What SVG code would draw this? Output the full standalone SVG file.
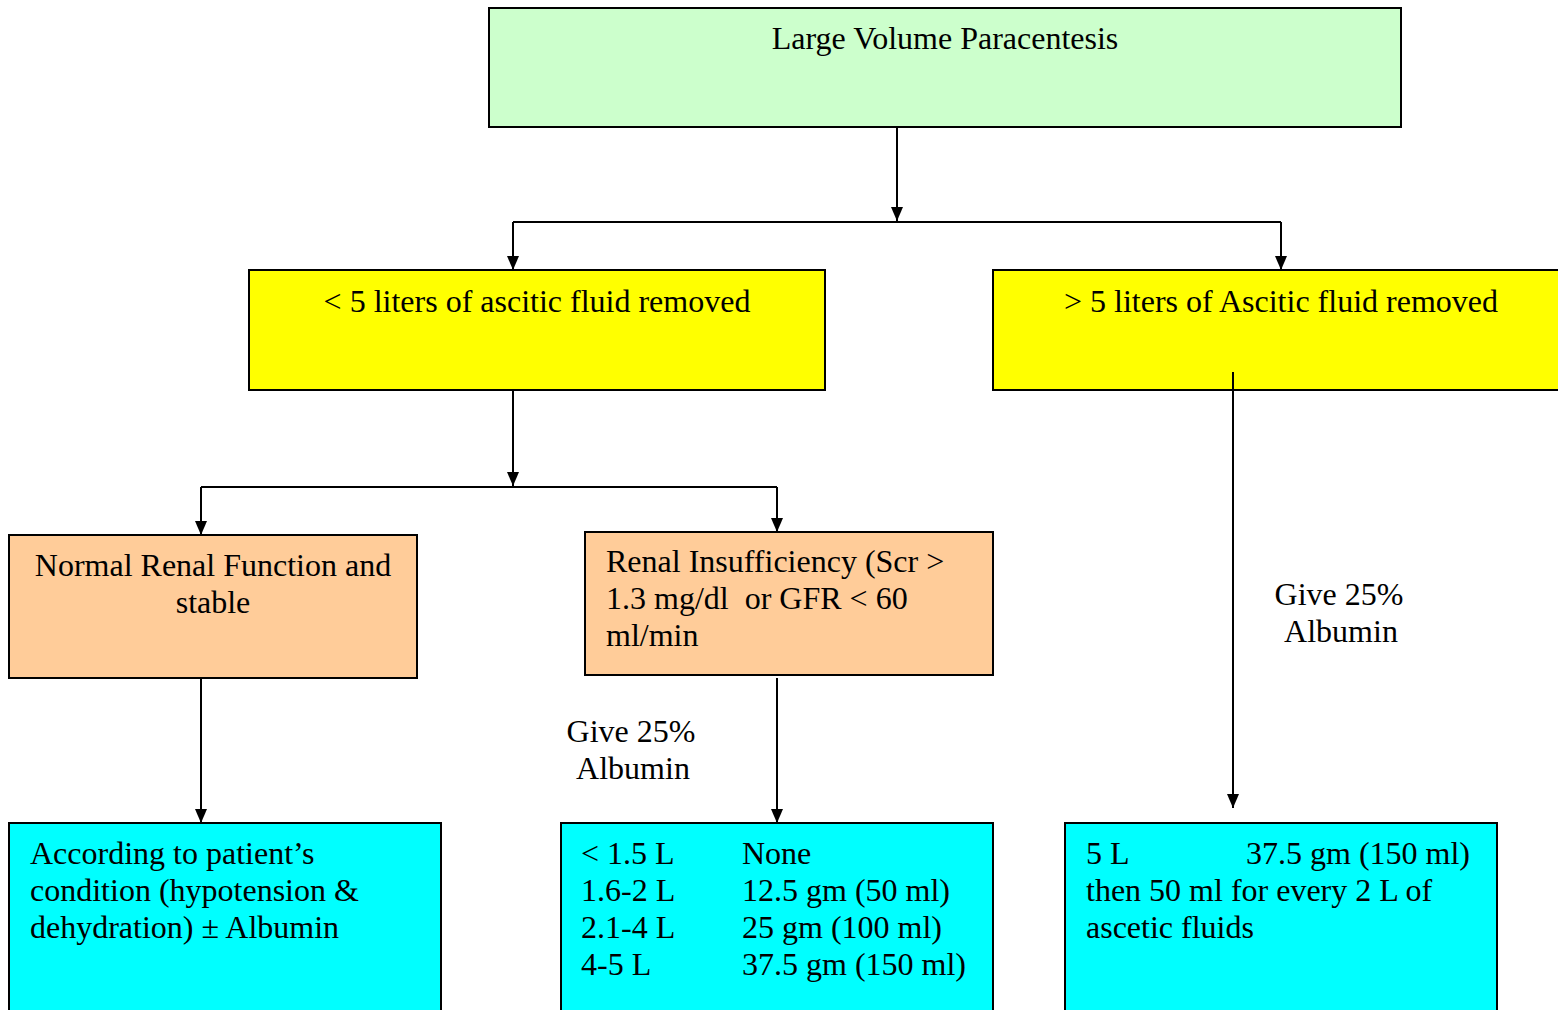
<svg xmlns="http://www.w3.org/2000/svg" width="1558" height="1010" viewBox="0 0 1558 1010">
<style>
.box{stroke:#000;stroke-width:2}
.t{font-family:"Liberation Serif","Times New Roman",serif;font-size:32px;fill:#000}
.c{text-anchor:middle}
.ln{fill:none;stroke:#000;stroke-width:2}
</style>
<defs>
<marker id="ah" markerUnits="userSpaceOnUse" markerWidth="14" markerHeight="12" refX="14" refY="6" orient="auto">
<path d="M0,0 L14,6 L0,12 z" fill="#000"/>
</marker>
</defs>
<rect width="1558" height="1010" fill="#fff"/>
<g id="connectors">
<line class="ln" x1="897" y1="127" x2="897" y2="221" marker-end="url(#ah)"/>
<polyline class="ln" points="513,222 1281,222"/>
<line class="ln" x1="513" y1="222" x2="513" y2="270" marker-end="url(#ah)"/>
<line class="ln" x1="1281" y1="222" x2="1281" y2="270" marker-end="url(#ah)"/>
<line class="ln" x1="513" y1="390" x2="513" y2="486" marker-end="url(#ah)"/>
<polyline class="ln" points="201,487 777,487"/>
<line class="ln" x1="201" y1="487" x2="201" y2="535" marker-end="url(#ah)"/>
<line class="ln" x1="777" y1="487" x2="777" y2="532" marker-end="url(#ah)"/>
<line class="ln" x1="201" y1="678" x2="201" y2="823" marker-end="url(#ah)"/>
<line class="ln" x1="777" y1="678" x2="777" y2="823" marker-end="url(#ah)"/>
<line class="ln" x1="1233" y1="372" x2="1233" y2="808" marker-end="url(#ah)"/>
<text class="t c" x="631" y="742">Give 25%</text>
<text class="t c" x="633" y="779">Albumin</text>
<text class="t c" x="1339" y="605">Give 25%</text>
<text class="t c" x="1341" y="642">Albumin</text>
</g>
<g id="lvp">
<rect class="box" x="489" y="8" width="912" height="119" fill="#CCFFCC"/>
<text class="t c" x="945" y="49">Large Volume Paracentesis</text>
</g>
<g id="lt5">
<rect class="box" x="249" y="270" width="576" height="120" fill="#FFFF00"/>
<text class="t c" x="537" y="312">&lt; 5 liters of ascitic fluid removed</text>
</g>
<g id="gt5">
<rect class="box" x="993" y="270" width="600" height="120" fill="#FFFF00"/>
<text class="t c" x="1281" y="312">&gt; 5 liters of Ascitic fluid removed</text>
</g>
<line class="ln" x1="1233" y1="372" x2="1233" y2="392"/>
<g id="normal">
<rect class="box" x="9" y="535" width="408" height="143" fill="#FFCC99"/>
<text class="t c" x="213" y="576">Normal Renal Function and</text>
<text class="t c" x="213" y="613">stable</text>
</g>
<g id="renal">
<rect class="box" x="585" y="532" width="408" height="143" fill="#FFCC99"/>
<text class="t" x="606" y="572">Renal Insufficiency (Scr &gt;</text>
<text class="t" x="606" y="609" xml:space="preserve">1.3 mg/dl  or GFR &lt; 60</text>
<text class="t" x="606" y="646">ml/min</text>
</g>
<g id="cond">
<rect class="box" x="9" y="823" width="432" height="200" fill="#00FFFF"/>
<text class="t" x="30" y="864">According to patient’s</text>
<text class="t" x="30" y="901">condition (hypotension &amp;</text>
<text class="t" x="30" y="938">dehydration) ± Albumin</text>
</g>
<g id="table">
<rect class="box" x="561" y="823" width="432" height="200" fill="#00FFFF"/>
<text class="t" x="581" y="864">&lt; 1.5 L</text>
<text class="t" x="742" y="864">None</text>
<text class="t" x="581" y="901">1.6-2 L</text>
<text class="t" x="742" y="901">12.5 gm (50 ml)</text>
<text class="t" x="581" y="938">2.1-4 L</text>
<text class="t" x="742" y="938">25 gm (100 ml)</text>
<text class="t" x="581" y="975">4-5 L</text>
<text class="t" x="742" y="975">37.5 gm (150 ml)</text>
</g>
<g id="five">
<rect class="box" x="1065" y="823" width="432" height="200" fill="#00FFFF"/>
<text class="t" x="1086" y="864">5 L</text>
<text class="t" x="1246" y="864">37.5 gm (150 ml)</text>
<text class="t" x="1086" y="901">then 50 ml for every 2 L of</text>
<text class="t" x="1086" y="938">ascetic fluids</text>
</g>
</svg>
